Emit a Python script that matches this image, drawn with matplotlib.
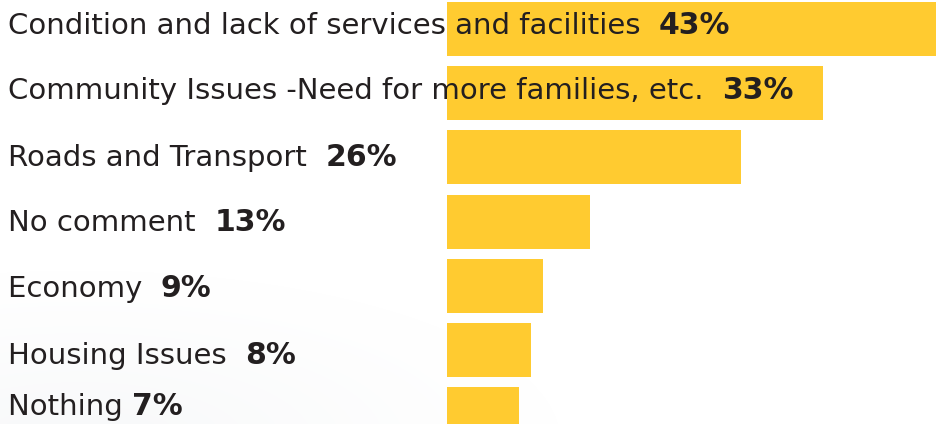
import numpy as np
import matplotlib.pyplot as plt

# survey answers, top to bottom
categories = [
    "Condition and lack of services and facilities",
    "Community Issues -Need for more families, etc.",
    "Roads and Transport",
    "No comment",
    "Economy",
    "Housing Issues",
    "Nothing",
]
values = [43.1, 33.1, 25.9, 12.6, 8.5, 7.4, 6.3]
pct_labels = ["43%", "33%", "26%", "13%", "9%", "8%", "7%"]
gaps = ["  ", "  ", "  ", "  ", "  ", "  ", " "]

plt.rcParams["font.family"] = ["DejaVu Sans"]

W, H, DPI = 936, 424, 100
bar_color = "#FFCB30"
text_color = "#231f20"
px_per_pct = 11.35
bar_x0 = 447
row_px = 64.2
first_center = 29
label_baseline = [34, 99, 166, 231, 297, 364, 415]  # px from top

fig = plt.figure(figsize=(W / DPI, H / DPI), dpi=DPI)

# faint grey shading in the lower left background
bg = fig.add_axes([0, 0, 1, 1])
yy, xx = np.mgrid[0:H, 0:W]
d = np.hypot((xx - 80) / 480, (yy - 440) / 170)
shade = np.clip(1 - d, 0, 1) ** 1.2
img = 1 - 0.03 * shade
bg.imshow(np.dstack([img, img + 0.004 * shade, img + 0.008 * shade]).clip(0, 1),
          extent=[0, W, H, 0], aspect="auto")
bg.set_xlim(0, W)
bg.set_ylim(H, 0)
bg.axis("off")

ax = fig.add_axes([0, 0, 1, 1])
ax.patch.set_alpha(0)
y = np.arange(len(values))
ax.barh(y, values, height=54 / row_px, color=bar_color, left=0)
ax.set_xlim(-bar_x0 / px_per_pct, (W - bar_x0) / px_per_pct)
ax.set_ylim((H - first_center) / row_px, -first_center / row_px)
ax.axis("off")

fig.canvas.draw()
r = fig.canvas.get_renderer()
for cat, pct, gap, yb in zip(categories, pct_labels, gaps, label_baseline):
    t = fig.text(8 / W, 1 - yb / H, cat + gap, fontsize=21, color=text_color,
                 va="baseline", ha="left")
    bb = t.get_window_extent(renderer=r)
    fig.text(bb.x1 / W, 1 - yb / H, pct, fontsize=21.5, fontweight="bold",
             color=text_color, va="baseline", ha="left")

fig.savefig("out.png", dpi=DPI)
